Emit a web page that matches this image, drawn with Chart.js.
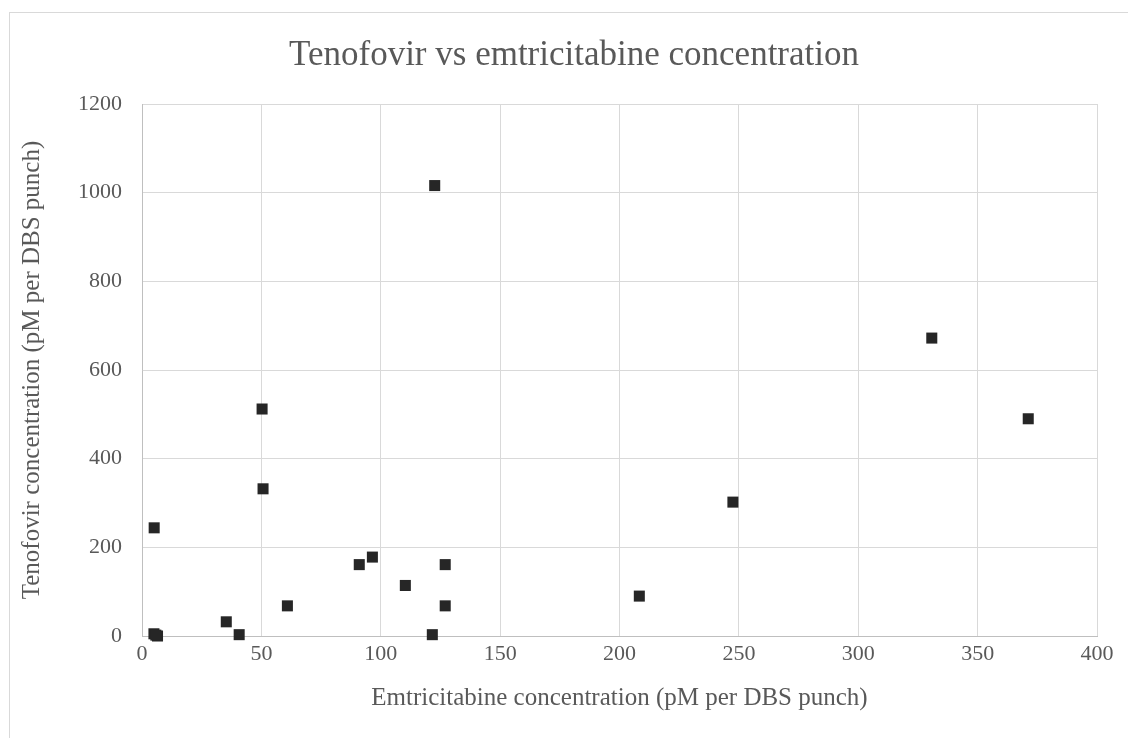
<!DOCTYPE html>
<html>
<head>
<meta charset="utf-8">
<script src="https://cdn.jsdelivr.net/npm/chart.js@4/dist/chart.umd.min.js"></script>
<style>
  html, body { margin: 0; padding: 0; background: #ffffff; }
  canvas { display: block; }
</style>
</head>
<body>
<canvas id="c" width="1128" height="738"></canvas>
<script>
// Data
const emtricitabine = [5.0, 6.5, 5.8, 5.1, 35.3, 40.7, 50.3, 50.7, 60.9, 91.0, 96.5, 110.3, 121.6, 122.6, 127.0, 127.0, 208.3, 247.5, 330.8, 371.2];
const tenofovir     = [5, 0, 2, 244, 32, 3, 512, 332, 68, 161, 178, 114, 3, 1016, 161, 68, 90, 302, 672, 490];
const chartTitle = 'Tenofovir vs emtricitabine concentration';
const xTitle = 'Emtricitabine concentration (pM per DBS punch)';
const yTitle = 'Tenofovir concentration (pM per DBS punch)';
const xTicks = [0, 50, 100, 150, 200, 250, 300, 350, 400];
const yTicks = [0, 200, 400, 600, 800, 1000, 1200];

const points = emtricitabine.map((x, i) => ({ x: x, y: tenofovir[i] }));
const serif = "'Liberation Serif', 'Times New Roman', serif";
const textColor = '#595959';

const frame = {
  id: 'frame',
  beforeDraw(chart) {
    const ctx = chart.ctx;
    ctx.save();
    ctx.fillStyle = '#ffffff';
    ctx.fillRect(0, 0, chart.width, chart.height);
    ctx.strokeStyle = '#d9d9d9';
    ctx.lineWidth = 1;
    ctx.strokeRect(9.5, 12.5, 1300, 900);
    ctx.restore();
  }
};

new Chart(document.getElementById('c'), {
  type: 'scatter',
  data: {
    datasets: [{
      data: points,
      pointStyle: 'rect',
      pointRadius: 7.8,
      pointHoverRadius: 7.8,
      pointBorderWidth: 0,
      backgroundColor: '#262626',
      borderColor: '#262626',
      clip: false
    }]
  },
  options: {
    responsive: false,
    animation: false,
    events: [],
    layout: { padding: { left: 51, right: 31, top: 0, bottom: 0 } },
    plugins: {
      legend: { display: false },
      tooltip: { enabled: false },
      title: {
        display: true,
        text: chartTitle,
        color: textColor,
        font: { family: serif, size: 35, weight: 'normal' },
        padding: { top: 35, bottom: 27 }
      }
    },
    scales: {
      x: {
        type: 'linear',
        min: 0, max: 400,
        afterBuildTicks(scale) { scale.ticks = xTicks.map(v => ({ value: v })); },
        afterFit(scale) { scale.height = 102; },
        grid: { color: '#d9d9d9', lineWidth: 1, drawTicks: false },
        border: { color: '#bfbfbf', width: 1 },
        ticks: { color: textColor, font: { family: serif, size: 22 }, padding: 5, maxRotation: 0,
                 callback: v => String(v) },
        title: {
          display: true, text: xTitle, color: textColor,
          font: { family: serif, size: 25 },
          padding: { top: 0, bottom: 25 }
        }
      },
      y: {
        type: 'linear',
        min: 0, max: 1200,
        afterBuildTicks(scale) { scale.ticks = yTicks.map(v => ({ value: v })); },
        afterFit(scale) { scale.width = 91; },
        grid: { color: '#d9d9d9', lineWidth: 1, drawTicks: false },
        border: { color: '#bfbfbf', width: 1 },
        ticks: { color: textColor, font: { family: serif, size: 22 }, padding: 20,
                 callback: v => String(v) },
        title: {
          display: true, text: yTitle, color: textColor,
          font: { family: serif, size: 25 },
          padding: { top: -34, bottom: 0 }
        }
      }
    }
  },
  plugins: [frame]
});
</script>
</body>
</html>
